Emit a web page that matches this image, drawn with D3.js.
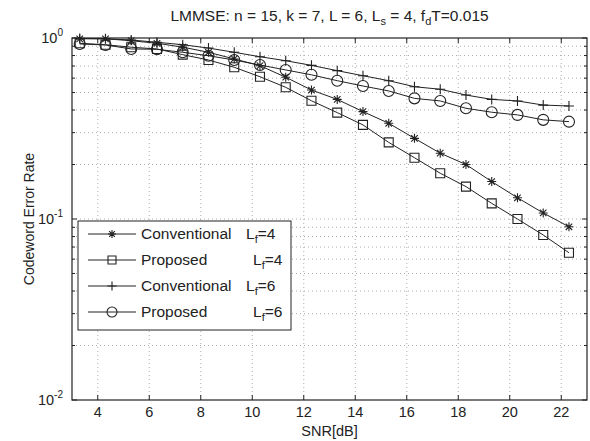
<!DOCTYPE html>
<html>
<head>
<meta charset="utf-8">
<script src="https://cdn.jsdelivr.net/npm/d3@7"></script>
<style>
  body { margin: 0; background: #fff; }
  text { font-family: "Liberation Sans", Arial, sans-serif; fill: #222; }
</style>
</head>
<body>
<div id="chart"></div>
<script>
const snr = [3.3, 4.3, 5.3, 6.3, 7.3, 8.3, 9.3, 10.3, 11.3, 12.3, 13.3, 14.3, 15.3, 16.3, 17.3, 18.3, 19.3, 20.3, 21.3, 22.3];
const convLf4 = [0.99, 0.99, 0.966, 0.935, 0.89, 0.834, 0.766, 0.703, 0.607, 0.516, 0.458, 0.392, 0.338, 0.279, 0.231, 0.200, 0.161, 0.131, 0.108, 0.0906];
const propLf4 = [0.935, 0.918, 0.889, 0.87, 0.809, 0.756, 0.689, 0.611, 0.534, 0.450, 0.387, 0.331, 0.265, 0.218, 0.179, 0.151, 0.122, 0.100, 0.0816, 0.0651];
const convLf6 = [0.995, 0.99, 0.975, 0.947, 0.918, 0.88, 0.834, 0.788, 0.749, 0.706, 0.660, 0.619, 0.581, 0.538, 0.521, 0.484, 0.458, 0.449, 0.426, 0.421];
const propLf6 = [0.927, 0.915, 0.87, 0.866, 0.834, 0.798, 0.756, 0.709, 0.666, 0.626, 0.581, 0.543, 0.510, 0.464, 0.449, 0.409, 0.389, 0.376, 0.353, 0.345];

const xTicks = [4, 6, 8, 10, 12, 14, 16, 18, 20, 22];
const yTicks = [0.01, 0.1, 1];
const yTickExp = ["-2", "-1", "0"];

const series = [
  { name: "Conventional", lf: "4", marker: "star", values: convLf4 },
  { name: "Proposed", lf: "4", marker: "square", values: propLf4 },
  { name: "Conventional", lf: "6", marker: "plus", values: convLf6 },
  { name: "Proposed", lf: "6", marker: "circle", values: propLf6 }
];

let options = {
  width: 590,
  height: 441,
  margins: { top: 38, right: 3, bottom: 41, left: 72 }
};

const ink = "#222";

function markerPath(type, s) {
  let p = d3.path();
  if (type === "star") {
    let r = s / 2, d = r * 0.72;
    p.moveTo(-r, 0); p.lineTo(r, 0);
    p.moveTo(0, -r); p.lineTo(0, r);
    p.moveTo(-d, -d); p.lineTo(d, d);
    p.moveTo(-d, d); p.lineTo(d, -d);
  } else if (type === "plus") {
    let r = s / 2;
    p.moveTo(-r, 0); p.lineTo(r, 0);
    p.moveTo(0, -r); p.lineTo(0, r);
  } else if (type === "square") {
    let r = s / 2;
    p.rect(-r, -r, s, s);
  } else {
    p.arc(0, 0, s / 2, 0, 2 * Math.PI);
  }
  return p.toString();
}

const markerSize = { star: 9, square: 9, plus: 10, circle: 11 };

function renderGraph() {
  let m = options.margins;
  let svg = d3.select("#chart").append("svg")
    .attr("width", options.width)
    .attr("height", options.height);

  let xScale = d3.scaleLinear().domain([3, 23]).range([m.left, options.width - m.right]);
  let yScale = d3.scaleLog().domain([0.01, 1]).range([options.height - m.bottom, m.top]);
  let [x0, x1] = xScale.range();
  let [y0, y1] = yScale.range();

  // minor log values for grid and ticks
  let minor = [];
  [0.01, 0.1].forEach(dec => { for (let k = 2; k <= 9; k++) minor.push(dec * k); });

  let grid = svg.append("g").attr("stroke", "#999").attr("stroke-width", 0.8)
    .attr("stroke-dasharray", "1,3");
  grid.selectAll(".gx").data(xTicks).enter().append("line")
    .attr("x1", d => xScale(d)).attr("x2", d => xScale(d))
    .attr("y1", y0).attr("y2", y1);
  grid.selectAll(".gy").data(minor.concat([0.1])).enter().append("line")
    .attr("x1", x0).attr("x2", x1)
    .attr("y1", d => yScale(d)).attr("y2", d => yScale(d));

  // ticks (inside, on all four sides)
  let ticks = svg.append("g").attr("stroke", ink).attr("stroke-width", 1);
  xTicks.forEach(t => {
    let x = xScale(t);
    ticks.append("line").attr("x1", x).attr("x2", x).attr("y1", y0).attr("y2", y0 - 5);
    ticks.append("line").attr("x1", x).attr("x2", x).attr("y1", y1).attr("y2", y1 + 5);
  });
  yTicks.forEach(t => {
    let y = yScale(t);
    ticks.append("line").attr("x1", x0).attr("x2", x0 + 5).attr("y1", y).attr("y2", y);
    ticks.append("line").attr("x1", x1).attr("x2", x1 - 5).attr("y1", y).attr("y2", y);
  });
  minor.forEach(t => {
    let y = yScale(t);
    ticks.append("line").attr("x1", x0).attr("x2", x0 + 3).attr("y1", y).attr("y2", y);
    ticks.append("line").attr("x1", x1).attr("x2", x1 - 3).attr("y1", y).attr("y2", y);
  });

  // frame
  svg.append("rect").attr("x", x0).attr("y", y1)
    .attr("width", x1 - x0).attr("height", y0 - y1)
    .attr("fill", "none").attr("stroke", ink).attr("stroke-width", 1.2);

  // tick labels
  svg.selectAll(".xl").data(xTicks).enter().append("text")
    .attr("x", d => xScale(d)).attr("y", y0 + 17)
    .attr("text-anchor", "middle").attr("font-size", 14.5)
    .text(d => d);

  yTicks.forEach((t, i) => {
    let y = yScale(t);
    let txt = svg.append("text").attr("x", x0 - 9).attr("y", y + 5)
      .attr("text-anchor", "end").attr("font-size", 14.5);
    txt.append("tspan").text("10");
    txt.append("tspan").attr("dy", -7).attr("font-size", 10).text(yTickExp[i]);
  });

  // axis labels and title
  svg.append("text").attr("x", (x0 + x1) / 2).attr("y", 436)
    .attr("text-anchor", "middle").attr("font-size", 14.5).text("SNR[dB]");

  svg.append("text")
    .attr("transform", `translate(34, ${(y0 + y1) / 2}) rotate(-90)`)
    .attr("text-anchor", "middle").attr("font-size", 14).text("Codeword Error Rate");

  let title = svg.append("text").attr("x", (x0 + x1) / 2).attr("y", 21)
    .attr("text-anchor", "middle").attr("font-size", 15.5);
  title.append("tspan").text("LMMSE: n = 15, k = 7, L = 6, L");
  title.append("tspan").attr("dy", 4).attr("font-size", 11).text("s");
  title.append("tspan").attr("dy", -4).text(" = 4, f");
  title.append("tspan").attr("dy", 4).attr("font-size", 11).text("d");
  title.append("tspan").attr("dy", -4).text("T=0.015");

  // series
  let line = d3.line().x(d => xScale(d[0])).y(d => yScale(d[1]));
  series.forEach(s => {
    let pts = snr.map((x, i) => [x, s.values[i]]);
    svg.append("path").datum(pts)
      .attr("d", line).attr("fill", "none")
      .attr("stroke", ink).attr("stroke-width", 1);
    svg.selectAll(null).data(pts).enter().append("path")
      .attr("transform", d => `translate(${xScale(d[0])},${yScale(d[1])})`)
      .attr("d", markerPath(s.marker, markerSize[s.marker]))
      .attr("fill", "none").attr("stroke", ink).attr("stroke-width", 1.1);
  });

  // legend
  let legend = svg.append("g").attr("id", "legend");
  legend.append("rect").attr("x", 78).attr("y", 221).attr("width", 213).attr("height", 109)
    .attr("fill", "#fff").attr("stroke", ink).attr("stroke-width", 1);

  series.forEach((s, i) => {
    let y = 234 + i * 26;
    legend.append("line").attr("x1", 88).attr("x2", 136).attr("y1", y).attr("y2", y)
      .attr("stroke", ink).attr("stroke-width", 1);
    legend.append("path").attr("transform", `translate(112,${y})`)
      .attr("d", markerPath(s.marker, markerSize[s.marker] - 1))
      .attr("fill", "none").attr("stroke", ink).attr("stroke-width", 1.1);
    legend.append("text").attr("x", 141).attr("y", y + 5).attr("font-size", 15.5).text(s.name);
    let lt = legend.append("text").attr("x", s.name === "Proposed" ? 253 : 246)
      .attr("y", y + 5).attr("font-size", 15.5);
    lt.append("tspan").text("L");
    lt.append("tspan").attr("dy", 4).attr("font-size", 11).text("f");
    lt.append("tspan").attr("dy", -4).text("=" + s.lf);
  });
}

document.addEventListener("DOMContentLoaded", renderGraph);
</script>
</body>
</html>
